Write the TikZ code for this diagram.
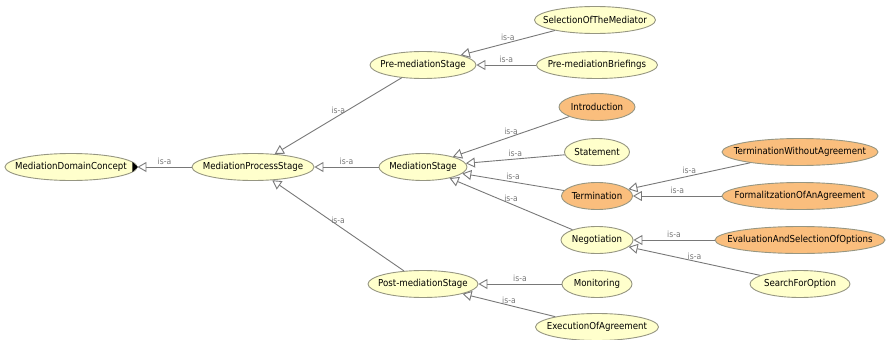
\documentclass[tikz,border=0pt]{standalone}
\usepackage{fontspec}
\setmainfont{DejaVu Sans Condensed}
\usetikzlibrary{arrows.meta, shapes.geometric}

\begin{document}
\begin{tikzpicture}[x=1pt, y=-1pt,
    concept/.style={ellipse, draw=conceptline, fill=conceptfill, line width=0.9pt,
        inner sep=0pt, minimum height=27pt, font=\fontsize{9.6}{11}\selectfont,
        execute at begin node={\hbox to 0pt\bgroup\hss},
        execute at end node={\hss\egroup}},
    defined/.style={concept, fill=definedfill},
    isa/.style={draw=edgegray, line width=0.9pt, -{Triangle[open, length=9pt, width=10pt]}},
    lbl/.style={midway, above, inner sep=1.5pt, text=edgegray, font=\fontsize{8.5}{9}\selectfont}]
    \definecolor{conceptfill}{RGB}{255, 255, 204}
    \definecolor{definedfill}{RGB}{250, 190, 125}
    \definecolor{conceptline}{RGB}{150, 150, 130}
    \definecolor{edgegray}{RGB}{120, 120, 120}

    \useasboundingbox (0,0) rectangle (887,340);

    % root and stages
    \node[concept, minimum width=132pt] (domain) at (71,167) {MediationDomainConcept};
    \node[concept, minimum width=122pt] (process) at (253,167) {MediationProcessStage};
    \node[concept, minimum width=106pt] (premed) at (423,65) {Pre-mediationStage};
    \node[concept, minimum width=88pt] (medstage) at (423,167) {MediationStage};
    \node[concept, minimum width=110pt] (postmed) at (423,284) {Post-mediationStage};

    % pre-mediation
    \node[concept, minimum width=121pt] (selection) at (595,20) {SelectionOfTheMediator};
    \node[concept, minimum width=121pt] (briefings) at (597,65) {Pre-mediationBriefings};

    % mediation
    \node[defined, minimum width=76pt] (intro) at (597,107) {Introduction};
    \node[concept, minimum width=65pt] (statement) at (597,152) {Statement};
    \node[defined, minimum width=71pt] (termination) at (597,196) {Termination};
    \node[concept, minimum width=72pt] (negotiation) at (597,240) {Negotiation};
    \node[defined, minimum width=156pt] (noagree) at (800,152) {TerminationWithoutAgreement};
    \node[defined, minimum width=156pt] (formal) at (800,196) {FormalitzationOfAnAgreement};
    \node[defined, minimum width=170pt] (evaluation) at (800,240) {EvaluationAndSelectionOfOptions};
    \node[concept, minimum width=100pt] (search) at (800,284) {SearchForOption};

    % post-mediation
    \node[concept, minimum width=70pt] (monitoring) at (597,284) {Monitoring};
    \node[concept, minimum width=123pt] (execution) at (597,327) {ExecutionOfAgreement};

    \fill ([xshift=-5pt, yshift=-5pt]domain.east) -- ([xshift=0.5pt]domain.east)
        -- ([xshift=-5pt, yshift=5pt]domain.east) -- cycle;

    \draw[isa] (process) -- node[lbl]{is-a} (domain);
    \draw[isa] (premed) -- node[lbl]{is-a} (process);
    \draw[isa] (medstage) -- node[lbl]{is-a} (process);
    \draw[isa] (postmed) -- node[lbl]{is-a} (process);

    \draw[isa] (selection) -- node[lbl]{is-a} (premed);
    \draw[isa] (briefings) -- node[lbl]{is-a} (premed);

    \draw[isa] (intro) -- node[lbl]{is-a} (medstage);
    \draw[isa] (statement) -- node[lbl]{is-a} (medstage);
    \draw[isa] (termination) -- node[lbl]{is-a} (medstage);
    \draw[isa] (negotiation) -- node[lbl]{is-a} (medstage);

    \draw[isa] (noagree) -- node[lbl]{is-a} (termination);
    \draw[isa] (formal) -- node[lbl]{is-a} (termination);
    \draw[isa] (evaluation) -- node[lbl]{is-a} (negotiation);
    \draw[isa] (search) -- node[lbl]{is-a} (negotiation);

    \draw[isa] (monitoring) -- node[lbl]{is-a} (postmed);
    \draw[isa] (execution) -- node[lbl]{is-a} (postmed);
\end{tikzpicture}
\end{document}
